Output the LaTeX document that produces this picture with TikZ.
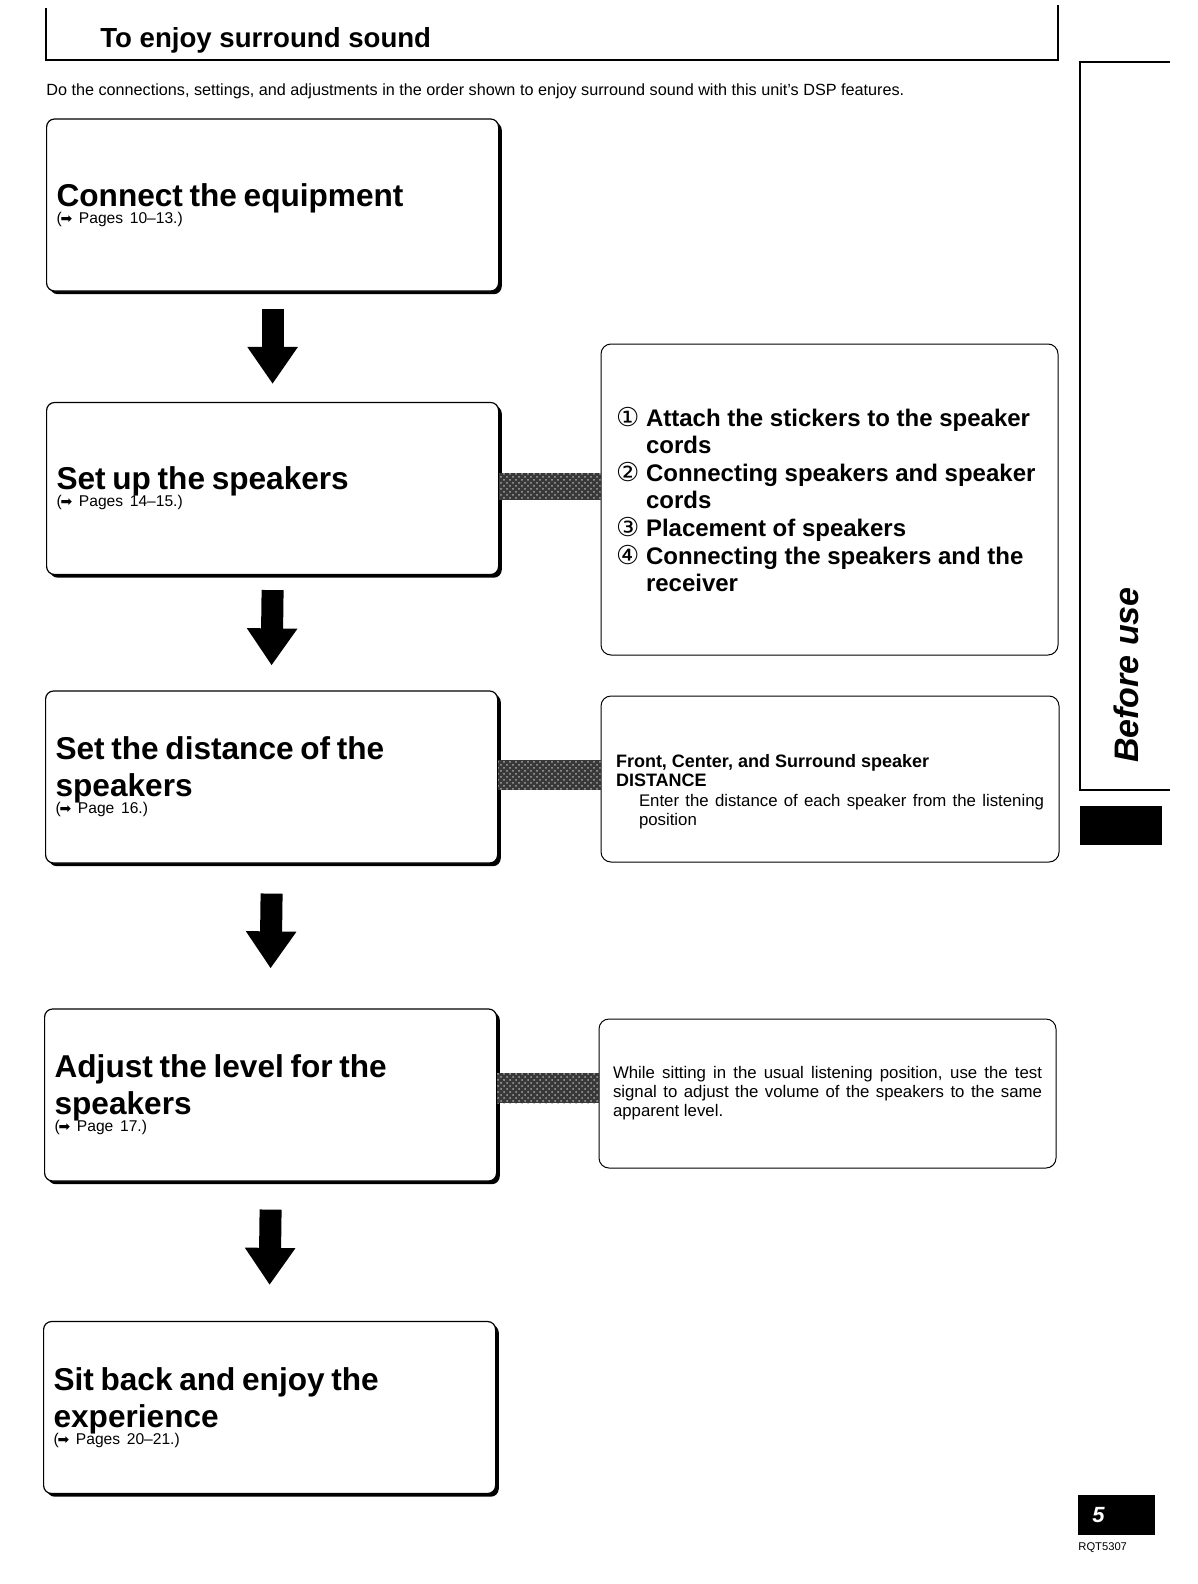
\documentclass[tikz,border=0pt]{standalone}
\usepackage{fontspec}
\setmainfont{Liberation Sans}
\newfontfamily\symfont{DejaVu Sans}
\usetikzlibrary{arrows.meta,calc,shadows,patterns}

\newcommand{\pagearrow}{{\symfont\fontsize{7}{7}\selectfont ➡}}
\newcommand{\stepcontent}[2]{%
  {\fontsize{15.8}{18.5}\selectfont\bfseries #1\par}%
  {\fontsize{7.8}{8.5}\selectfont\lineskiplimit=-10pt (\kern-0.6pt\pagearrow\ #2)\par}}
\newcommand{\circnum}[2]{\hangindent=15pt\hangafter=1\noindent
  \makebox[15pt][l]{\symfont\mdseries\fontsize{13}{13.8}\selectfont #1}#2\par}

\tikzset{
  stepbox/.style={draw, line width=0.6pt, rounded corners=4pt, fill=white,
    drop shadow={shadow xshift=1.6pt, shadow yshift=-1.6pt, opacity=1, fill=black},
    text width=216pt, inner xsep=5pt, inner ysep=0pt, minimum height=86pt,
    align=left, anchor=west},
  notebox/.style={draw, line width=0.5pt, rounded corners=5pt, fill=white,
    inner ysep=0pt},
  linkbar/.style={fill=black!78, postaction={pattern=crosshatch dots, pattern color=white!65!black}},
  flowarrow/.style={line width=11pt, -{Triangle[width=24pt,length=18.5pt]}},
}

\begin{document}
\begin{tikzpicture}[x=0.5pt,y=-0.5pt]
\useasboundingbox (0,0) rectangle (1198,1584);

% header
\draw[line width=0.7pt] (46,8) -- (46,60) -- (1058,60) -- (1058,5);
\node[anchor=base west, inner sep=0pt, font=\fontsize{13.8}{16}\selectfont\bfseries]
  (header) at (100,48) {To enjoy surround sound};
\node[anchor=base west, inner sep=0pt, font=\fontsize{8.1}{9}\selectfont]
  (intro) at (46,96) {Do the connections, settings, and adjustments in the order shown to enjoy surround sound with this unit's DSP features.};

% side tab
\draw[line width=0.6pt] (1170,62) -- (1080,62) -- (1080,790) -- (1170,790);
\node[rotate=90, inner sep=0pt, font=\fontsize{17}{20}\selectfont\bfseries\itshape]
  (tabtext) at (1126,675) {Before use};
\fill (1080,806) rectangle (1162,845);

% steps
\node[stepbox] (equip) at (46,205) {\stepcontent{Connect the equipment}{Pages 10–13.}};
\node[stepbox] (speakers) at (46,488.5) {\stepcontent{Set up the speakers}{Pages 14–15.}};
\node[stepbox] (distance) at (45,777) {\stepcontent{Set the distance of the\\speakers}{Page 16.}};
\node[stepbox] (level) at (44,1095) {\stepcontent{Adjust the level for the\\speakers}{Page 17.}};
\node[stepbox] (enjoy) at (43,1407.5) {\stepcontent{Sit back and enjoy the\\experience}{Pages 20–21.}};

% notes
\node[notebox, text width=213.5pt, inner xsep=7.5pt, minimum height=155.5pt, align=left]
  (speakernotes) at (829.5,499.5) {\fontsize{12}{13.8}\selectfont\bfseries
  \circnum{①}{Attach the stickers to the speaker\newline cords}
  \circnum{②}{Connecting speakers and speaker\newline cords}
  \circnum{③}{Placement of speakers}
  \circnum{④}{Connecting the speakers and the\newline receiver}};
\node[notebox, text width=214pt, inner xsep=7.5pt, minimum height=83pt, align=justify]
  (distnotes) at (830,779) {\fontsize{9}{9.75}\selectfont\bfseries
  \rule{0pt}{19pt}Front, Center, and Surround speaker\par
  DISTANCE\par
  {\fontsize{8.4}{9.75}\selectfont\mdseries\leftskip=11.5pt\tolerance=3000 Enter the distance of each speaker from the listening position\par}};
\node[notebox, text width=214.5pt, inner xsep=7pt, minimum height=74.5pt, align=justify]
  (levelnotes) at (827.5,1093.5) {\fontsize{8.4}{9.5}\selectfont\hyphenpenalty=10000\tolerance=9999
  While sitting in the usual listening position, use the test\linebreak signal to adjust the volume of the speakers to the same\linebreak apparent level.\par};

% links between steps and notes
\path[linkbar] ($(speakers.east)+(0,-16)$) rectangle ($(speakers.east -| speakernotes.west)+(0,11)$);
\path[linkbar] ($(distance.east)+(0,-17)$) rectangle ($(distance.east -| distnotes.west)+(0,13)$);
\path[linkbar] ($(level.east)+(0,-22)$) rectangle ($(level.east -| levelnotes.west)+(0,8)$);

% arrows
\draw[flowarrow] ($(equip.south)+(0,17)$) -- ($(speakers.north)+(0,-18)$);
\draw[flowarrow] ($(speakers.south)+(0,15)$) -- ($(distance.north)+(0,-25)$);
\draw[flowarrow] ($(distance.south)+(0,30)$) -- ($(level.north)+(0,-40)$);
\draw[flowarrow] ($(level.south)+(0,28)$) -- ($(enjoy.north)+(0,-36)$);

% page number
\node[fill=black, text=white, anchor=north west, minimum width=38.5pt, minimum height=20pt,
  inner xsep=7pt, text width=24.5pt, font=\fontsize{11}{12}\selectfont\bfseries\itshape]
  (pagebox) at (1078,1495) {5};
\node[anchor=north west, inner sep=0pt, font=\fontsize{5.6}{6}\selectfont]
  (doccode) at ($(pagebox.south west)+(0,6)$) {RQT5307};
\end{tikzpicture}
\end{document}
